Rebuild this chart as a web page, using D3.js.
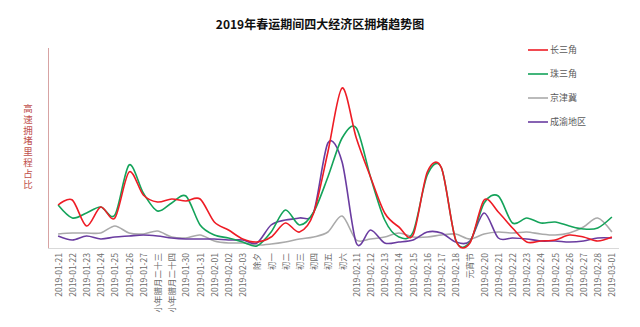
<!DOCTYPE html>
<html>
<head>
<meta charset="utf-8">
<script src="https://cdn.jsdelivr.net/npm/d3@7/dist/d3.min.js"></script>
<style>
  html, body { margin: 0; padding: 0; background: #fff; }
  svg { display: block; font-family: "Noto Sans CJK SC", "Microsoft YaHei", sans-serif; }
</style>
</head>
<body>
<svg id="chart" width="640" height="327"></svg>
<script>
// Categories along the x axis (dates, with festival names where they apply)
const categories = [
  "2019-01-21", "2019-01-22", "2019-01-23", "2019-01-24", "2019-01-25",
  "2019-01-26", "2019-01-27", "小年腊月二十三", "小年腊月二十四", "2019-01-30",
  "2019-01-31", "2019-02-01", "2019-02-02", "2019-02-03", "除夕",
  "初一", "初二", "初三", "初四", "初五",
  "初六", "2019-02-11", "2019-02-12", "2019-02-13", "2019-02-14",
  "2019-02-15", "2019-02-16", "2019-02-17", "2019-02-18", "元宵节",
  "2019-02-20", "2019-02-21", "2019-02-22", "2019-02-23", "2019-02-24",
  "2019-02-25", "2019-02-26", "2019-02-27", "2019-02-28", "2019-03-01"
];

// Congestion mileage share per region (%)
const changSanJiao = [
  2.15, 2.4, 1.1, 2.05, 1.5, 3.8, 2.65, 2.3, 2.45, 2.35,
  2.45, 1.3, 0.9, 0.45, 0.3, 0.55, 1.25, 0.8, 1.75, 4.8,
  8.0, 5.5, 3.55, 1.75, 1.05, 0.65, 3.8, 4.0, 0.4, 0.25,
  2.4, 1.8, 1.0, 0.3, 0.35, 0.4, 0.65, 0.55, 0.35, 0.55
];
const zhuSanJiao = [
  2.15, 1.5, 1.75, 2.05, 1.65, 4.15, 2.75, 1.85, 2.25, 2.6,
  1.15, 0.65, 0.5, 0.3, 0.1, 0.8, 1.9, 1.15, 1.8, 3.55,
  5.5, 6.0, 3.55, 1.4, 0.55, 0.8, 3.65, 4.0, 0.4, 0.3,
  2.25, 2.6, 1.25, 1.5, 1.25, 1.3, 1.1, 0.95, 1.0, 1.55
];
const jingJinJi = [
  0.7, 0.75, 0.75, 0.75, 1.1, 0.75, 0.7, 0.85, 0.55, 0.5,
  0.65, 0.35, 0.25, 0.25, 0.15, 0.2, 0.3, 0.45, 0.55, 0.8,
  1.6, 0.4, 0.45, 0.55, 0.75, 0.55, 0.55, 0.65, 0.7, 0.45,
  0.7, 0.8, 0.75, 0.8, 0.7, 0.65, 0.75, 1.05, 1.5, 0.8
];
const chengYu = [
  0.6, 0.4, 0.6, 0.45, 0.55, 0.6, 0.65, 0.6, 0.5, 0.45,
  0.45, 0.45, 0.4, 0.4, 0.25, 1.15, 1.4, 1.5, 1.8, 5.25,
  4.3, 0.25, 0.9, 0.25, 0.3, 0.4, 0.8, 0.75, 0.3, 0.35,
  1.75, 0.5, 0.5, 0.45, 0.35, 0.35, 0.3, 0.35, 0.5, 0.5
];

const seriesNames = ["长三角", "珠三角", "京津冀", "成渝地区"];
const seriesColors = ["#ee1c25", "#14a35a", "#aaaaaa", "#6a3ca0"];
const seriesValues = [changSanJiao, zhuSanJiao, jingJinJi, chengYu];

const title = "2019年春运期间四大经济区拥堵趋势图";
const yTitle = "高速拥堵里程占比";

const svg = d3.select("#chart");

const plot = { left: 48, right: 619, top: 48, bottom: 248 };

const x = d3.scalePoint()
  .domain(categories)
  .range([51, 619])
  .padding(0.5);

const y = d3.scaleLinear()
  .domain([0, 10])
  .range([plot.bottom, plot.top]);

// Title
svg.append("text")
  .attr("x", 320)
  .attr("y", 29)
  .attr("text-anchor", "middle")
  .attr("font-size", 12)
  .attr("font-weight", "bold")
  .attr("fill", "#111")
  .text(title);

// Axes lines
svg.append("line")
  .attr("x1", plot.left).attr("x2", plot.right)
  .attr("y1", plot.bottom + 0.5).attr("y2", plot.bottom + 0.5)
  .attr("stroke", "#d9d9d9").attr("stroke-width", 1);

svg.append("line")
  .attr("x1", plot.left + 0.5).attr("x2", plot.left + 0.5)
  .attr("y1", plot.top).attr("y2", plot.bottom)
  .attr("stroke", "#d7a3a3").attr("stroke-width", 1);

// X axis tick labels (vertical)
const xAxis = svg.append("g")
  .attr("transform", `translate(0,${plot.bottom})`)
  .call(d3.axisBottom(x).tickSize(0).tickPadding(0));
xAxis.select(".domain").remove();
xAxis.selectAll("text")
  .attr("font-family", "\"Noto Sans CJK SC\", sans-serif")
  .attr("font-size", 8.5)
  .attr("fill", "#6b6b6b")
  .attr("text-anchor", "end")
  .attr("dy", "0.35em")
  .attr("transform", "translate(0,5) rotate(-90)")
  .attr("x", 0)
  .attr("y", 0);

// Y axis title, set in vertical writing mode with upright characters
svg.append("text")
  .attr("x", 28)
  .attr("y", 147)
  .attr("font-size", 9.5)
  .attr("fill", "#c0504d")
  .attr("text-anchor", "middle")
  .style("writing-mode", "vertical-rl")
  .style("text-orientation", "upright")
  .style("letter-spacing", "1.4px")
  .text(yTitle);

// Series lines
const line = d3.line()
  .x((d, i) => x(categories[i]))
  .y(d => y(d))
  .curve(d3.curveCardinal.tension(0.1));

// Draw order: grey and purple beneath, then green and red
const order = [2, 3, 1, 0];
order.forEach(k => {
  svg.append("path")
    .datum(seriesValues[k])
    .attr("fill", "none")
    .attr("stroke", seriesColors[k])
    .attr("stroke-width", 1.6)
    .attr("stroke-linejoin", "round")
    .attr("d", line);
});

// Legend
const legend = svg.append("g");
const legendY = [50, 74, 98, 122];
seriesNames.forEach((name, k) => {
  legend.append("line")
    .attr("x1", 528).attr("x2", 548)
    .attr("y1", legendY[k]).attr("y2", legendY[k])
    .attr("stroke", seriesColors[k]).attr("stroke-width", 1.6);
  legend.append("text")
    .attr("x", 550)
    .attr("y", legendY[k])
    .attr("dy", "0.35em")
    .attr("font-size", 9)
    .attr("fill", "#595959")
    .text(name);
});
</script>
</body>
</html>
